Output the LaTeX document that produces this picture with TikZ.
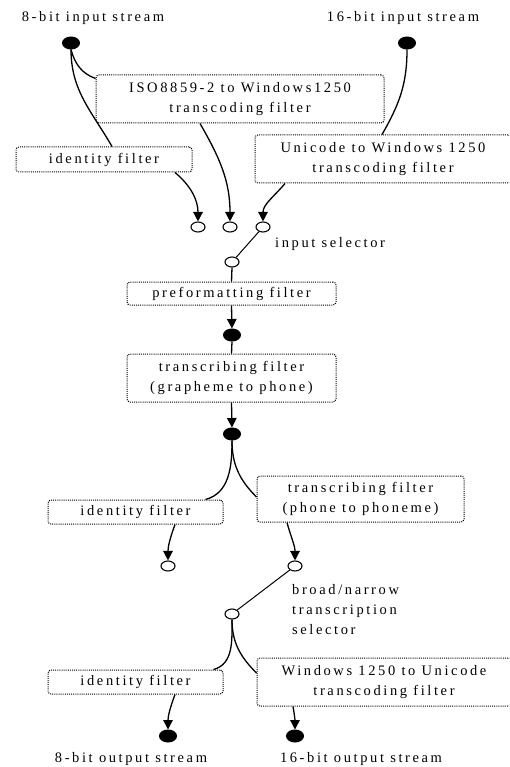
\documentclass[tikz,border=0pt]{standalone}
\usepackage{fontspec}
\setmainfont{Liberation Serif}[LetterSpace=18]
\usetikzlibrary{shapes.geometric,arrows.meta,calc}
\begin{document}
\begin{tikzpicture}[x=1pt,y=1pt,
  every node/.style={font=\fontsize{14.5}{20}\selectfont},
  fbox/.style={draw, dash pattern=on 1pt off 1.1pt, line width=1pt, rounded corners=3pt, inner sep=0pt, align=center},
  blk/.style={ellipse, draw, fill=black, line width=1pt, minimum width=17pt, minimum height=12pt, inner sep=0pt},
  wht/.style={ellipse, draw, fill=white, line width=1.1pt, minimum width=14pt, minimum height=10pt, inner sep=0pt},
  conn/.style={line width=1.3pt},
  arr/.style={line width=1.3pt, -{Triangle[width=9.5pt,length=9.5pt]}},
  lbl/.style={inner sep=0pt}
]
\useasboundingbox (0,0) rectangle (509,-767);
\clip (0,0) rectangle (509,-767);

% labels
\node[lbl] (l8in) at (93,-18) {8-bit input stream};
\node[lbl] (l16in) at (403,-18) {16-bit input stream};

% sources
\node[blk] (in8) at (71,-43) {};
\node[blk] (in16) at (407,-43) {};

% first stage filters
\node[fbox, minimum width=288pt, minimum height=48pt] (iso) at (240,-99) {ISO8859-2 to Windows1250\\transcoding filter};
\node[fbox, minimum width=176pt, minimum height=25pt] (id1) at (104,-159.5) {identity filter};
\node[fbox, minimum width=256pt, minimum height=48pt] (uni) at (383,-159) {Unicode to Windows 1250\\transcoding filter};

% selector inputs
\node[wht] (e1) at (198,-227) {};
\node[wht] (e2) at (230,-227) {};
\node[wht] (e3) at (263,-227) {};
\node[wht] (sel1) at (232,-262) {};
\node[lbl, anchor=west] (insel) at (275,-244) {input selector};

% middle chain
\node[fbox, minimum width=209pt, minimum height=23pt] (pre) at (231.5,-293.5) {preformatting filter};
\node[blk] (b1) at (232,-335) {};
\node[fbox, minimum width=209pt, minimum height=48pt] (tr1) at (231.5,-378) {transcribing filter\\(grapheme to phone)};
\node[blk] (b2) at (232,-434) {};

% second branch
\node[fbox, minimum width=175pt, minimum height=24pt] (id2) at (135.5,-512) {identity filter};
\node[fbox, minimum width=207pt, minimum height=46pt] (tr2) at (360.5,-499) {transcribing filter\\(phone to phoneme)};
\node[wht] (e4) at (168,-566) {};
\node[wht] (e5) at (295,-566) {};
\node[wht] (sel2) at (232,-614) {};
\node[lbl, anchor=west, align=left] (bnsel) at (292,-610) {broad/narrow\\transcription\\selector};

% output branch
\node[fbox, minimum width=175pt, minimum height=24pt] (id3) at (135.5,-682) {identity filter};
\node[fbox, minimum width=254pt, minimum height=48pt] (win) at (384,-682) {Windows 1250 to Unicode\\transcoding filter};
\node[blk] (o8) at (168,-736) {};
\node[blk] (o16) at (295,-736) {};
\node[lbl] (l8out) at (131,-759) {8-bit output stream};
\node[lbl] (l16out) at (361,-759) {16-bit output stream};

% connectors
\draw[conn] (in8.south) to[out=-90, in=120] ([xshift=8pt]id1.north);
\draw[conn] (in8.south) to[out=-75, in=160] ([yshift=-4pt]iso.north west);
\draw[conn] (in16.south) to[out=-90, in=60] ([xshift=-1pt]uni.north);
\draw[arr] ([xshift=71pt]id1.south) to[out=-40, in=90] (e1.north);
\draw[arr] ([xshift=-40pt]iso.south) to[out=-60, in=90] (e2.north);
\draw[arr] ([xshift=-98pt]uni.south) to[out=-130, in=90] (e3.north);
\draw[conn, line width=1pt] (e3) -- (sel1);
\draw[conn] (sel1.south) -- (pre.north);
\draw[arr] (pre.south) -- (b1.north);
\draw[conn] (b1.south) -- (tr1.north);
\draw[arr] (tr1.south) -- (b2.north);
\draw[conn] (b2.south) to[out=-90, in=15] ([xshift=-18pt]id2.north east);
\draw[conn] (b2.south) to[out=-90, in=135] ([yshift=2pt]tr2.west);
\draw[arr] ([xshift=39.5pt]id2.south) to[out=-110, in=90] (e4.north);
\draw[arr] ([xshift=-73.5pt]tr2.south) to[out=-75, in=90] (e5.north);
\draw[conn, line width=1pt] (e5) -- (sel2);
\draw[conn] (sel2.south) to[out=-90, in=15] ([xshift=-10pt]id3.north east);
\draw[conn] (sel2.south) to[out=-90, in=135] ([yshift=9pt]win.west);
\draw[arr] ([xshift=39.5pt]id3.south) to[out=-110, in=90] (o8.north);
\draw[arr] ([xshift=-91pt]win.south) to[out=-80, in=90] (o16.north);
\end{tikzpicture}
\end{document}
